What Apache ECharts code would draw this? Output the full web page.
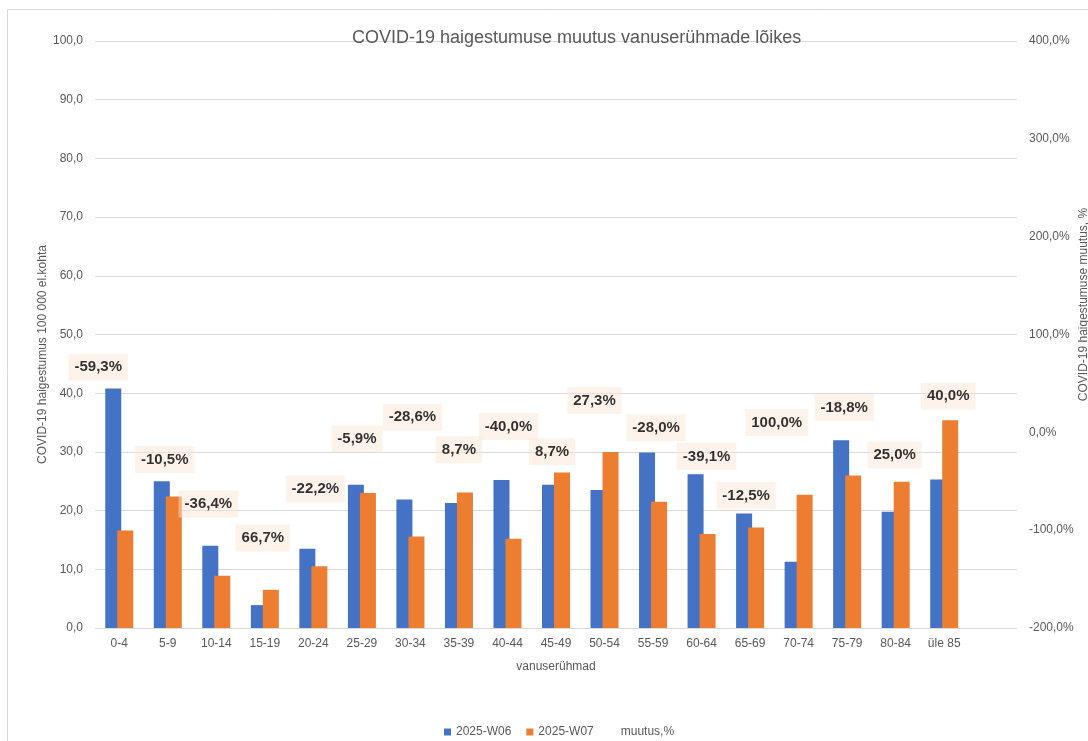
<!DOCTYPE html>
<html>
<head>
<meta charset="utf-8">
<script src="https://cdn.jsdelivr.net/npm/echarts@6/dist/echarts.min.js"></script>
<style>
  html, body { margin: 0; padding: 0; background: #fff; overflow: hidden; }
  #chart { width: 1088px; height: 741px; }
</style>
</head>
<body>
<div id="chart"></div>
<script>
// age groups; the last slot is empty in the source sheet
const ageGroups = ["0-4", "5-9", "10-14", "15-19", "20-24", "25-29", "30-34", "35-39", "40-44",
  "45-49", "50-54", "55-59", "60-64", "65-69", "70-74", "75-79", "80-84", "üle 85", ""];
const week06 = [40.8, 25.0, 14.0, 3.9, 13.5, 24.4, 21.9, 21.3, 25.2, 24.4, 23.5, 29.9, 26.2, 19.5, 11.3, 32.0, 19.8, 25.3, null];
const week07 = [16.6, 22.4, 8.9, 6.5, 10.5, 23.0, 15.6, 23.1, 15.2, 26.5, 30.0, 21.5, 16.0, 17.1, 22.7, 26.0, 24.9, 35.4, null];
const changePct = [-59.3, -10.5, -36.4, 66.7, -22.2, -5.9, -28.6, 8.7, -40.0, 8.7, 27.3, -28.0, -39.1, -12.5, 100.0, -18.8, 25.0, 40.0, null];

// labels were dragged by hand in the original, so shift them the same way (px)
const labelShift = [[-21, -123], [-3, 17], [-8, 36], [-2, 171], [2, 35], [-5, 1], [2, -43], [0, 26], [1, -45],
  [-4, 28], [-10, -5], [3, -32], [5, -14], [-4, 51], [-22, 88], [-3, -43], [-1, 47], [4, 3], [0, 0]];

const grey = "#595959";
const font = "'Liberation Sans', Arial, sans-serif";
const comma = (v, digits) => v.toFixed(digits).replace(".", ",");

const chart = echarts.init(document.getElementById("chart"), null, { width: 1088, height: 741 });

chart.setOption({
  animation: false,
  textStyle: { fontFamily: font },
  graphic: [{
    type: "rect",
    shape: { x: 7.5, y: 9.5, width: 1100, height: 745 },
    style: { fill: "none", stroke: "#d9d9d9", lineWidth: 1 },
    silent: true,
  }],
  title: {
    text: "COVID-19 haigestumuse muutus vanuserühmade lõikes",
    left: 352,
    top: 29,
    padding: 0,
    textStyle: { fontSize: 18, fontWeight: "normal", color: grey, fontFamily: font },
  },
  grid: { left: 95, right: 71, top: 41, bottom: 113, containLabel: false, outerBoundsMode: "none" },
  legend: {
    left: 439,
    top: 721,
    itemWidth: 7,
    itemHeight: 7,
    itemGap: 15,
    textStyle: { fontSize: 12, color: grey, fontFamily: font },
    data: [
      { name: "2025-W06", icon: "rect" },
      { name: "2025-W07", icon: "rect" },
      { name: "muutus,%", icon: "rect", itemStyle: { color: "rgba(0,0,0,0)" } },
    ],
  },
  xAxis: {
    type: "category",
    data: ageGroups,
    name: "vanuserühmad",
    nameLocation: "middle",
    nameGap: 33,
    nameTextStyle: { fontSize: 12, color: grey },
    axisTick: { show: false },
    axisLine: { lineStyle: { color: "#d9d9d9" } },
    axisLabel: { interval: 0, fontSize: 12, color: grey, margin: 10 },
  },
  yAxis: [
    {
      type: "value",
      min: 0,
      max: 100,
      interval: 10,
      name: "COVID-19 haigestumus 100 000 el.kohta",
      nameLocation: "middle",
      nameRotate: 90,
      nameGap: 46,
      nameMoveOverlap: false,
      nameTextStyle: { fontSize: 12, color: grey, padding: [0, 40, 0, 0] },
      axisLabel: { fontSize: 12, color: grey, margin: 12, formatter: (v) => comma(v, 1) },
      splitLine: { lineStyle: { color: "#d9d9d9" } },
    },
    {
      type: "value",
      min: -200,
      max: 400,
      interval: 100,
      position: "right",
      name: "COVID-19 haigestumuse muutus, %",
      nameLocation: "middle",
      nameRotate: 90,
      nameGap: 61,
      nameMoveOverlap: false,
      nameTextStyle: { fontSize: 12, color: grey, padding: [0, 0, 0, 60] },
      axisLabel: { fontSize: 12, color: grey, margin: 12, formatter: (v) => comma(v, 1) + "%" },
      splitLine: { show: false },
    },
  ],
  series: [
    {
      name: "2025-W06",
      type: "bar",
      data: week06,
      barWidth: 16,
      barGap: "-25%",
      itemStyle: { color: "#4472c4" },
    },
    {
      name: "2025-W07",
      type: "bar",
      data: week07,
      barWidth: 16,
      itemStyle: { color: "#ed7d31" },
    },
    {
      name: "muutus,%",
      type: "scatter",
      yAxisIndex: 1,
      symbolSize: 1,
      itemStyle: { color: "rgba(0,0,0,0)" },
      data: changePct.map((v, i) => ({
        value: v,
        label: { offset: labelShift[i] },
      })),
      label: {
        show: true,
        position: "inside",
        fontSize: 15,
        fontWeight: "bold",
        color: "#000",
        fontFamily: font,
        backgroundColor: "rgba(251,229,214,0.6)",
        padding: [6, 6],
        formatter: (p) => (p.value == null ? "" : comma(p.value, 1) + "%"),
      },
      z: 5,
    },
  ],
});
</script>
</body>
</html>
